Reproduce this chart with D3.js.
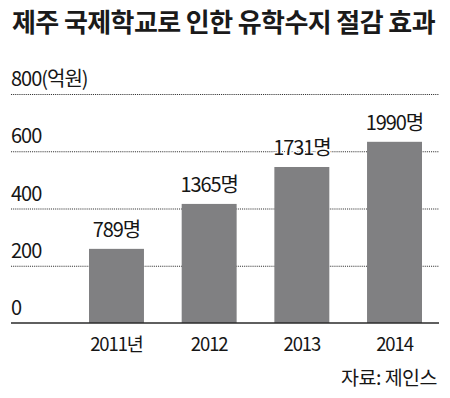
<!DOCTYPE html>
<html>
<head>
<meta charset="utf-8">
<script src="https://cdn.jsdelivr.net/npm/d3@7"></script>
<style>
  html, body { margin: 0; padding: 0; background: #fff; }
  svg { display: block; font-family: "Noto Sans CJK KR", "Noto Sans", sans-serif; }
</style>
</head>
<body>
<div id="chart"></div>
<script>
// data
const years = ['2011', '2012', '2013', '2014'];
const yearLabels = ['2011년', '2012', '2013', '2014'];
const savings = [259, 416, 545, 633];          // 억원
const students = ['789명', '1365명', '1731명', '1990명'];
const yTicks = [0, 200, 400, 600, 800];

const width = 450;
const height = 398;
const margin = { top: 94, right: 11, bottom: 75, left: 11 };

let svg = d3.select('#chart').append('svg')
    .attr('width', width)
    .attr('height', height);

svg.append('rect')
    .attr('width', width)
    .attr('height', height)
    .style('fill', '#fff');

// title
svg.append('text')
    .attr('x', 12)
    .attr('y', 32)
    .style('font-size', '26px')
    .style('font-weight', 700)
    .style('letter-spacing', '-0.6px')
    .style('fill', '#1a1a1a')
    .text('제주 국제학교로 인한 유학수지 절감 효과');

// scales
let yScale = d3.scaleLinear()
    .domain([0, 800])
    .range([height - margin.bottom, margin.top]);

let xScale = d3.scaleBand()
    .domain(years)
    .range([89, 422])
    .paddingInner(0.407)
    .paddingOuter(0);

// grid lines (dotted)
svg.append('g')
    .selectAll('line')
    .data(yTicks.filter(d => d > 0))
    .enter()
    .append('line')
    .attr('x1', margin.left)
    .attr('x2', width - margin.right)
    .attr('y1', d => yScale(d) + 0.5)
    .attr('y2', d => yScale(d) + 0.5)
    .style('stroke', '#333')
    .style('stroke-width', 1.1)
    .style('stroke-dasharray', '1.1,1');

// tick labels
svg.append('g')
    .selectAll('text')
    .data(yTicks)
    .enter()
    .append('text')
    .attr('x', 11)
    .attr('y', d => yScale(d) - 8)
    .style('font-size', '20px')
    .style('letter-spacing', '-1px')
    .style('fill', '#161616')
    .text(d => d === 800 ? '800(억원)' : d);

// bars
svg.append('g')
    .selectAll('rect')
    .data(savings)
    .enter()
    .append('rect')
    .attr('x', (d, i) => xScale(years[i]))
    .attr('y', d => yScale(d))
    .attr('width', xScale.bandwidth())
    .attr('height', d => yScale(0) - yScale(d))
    .style('fill', '#808082');

// baseline
svg.append('line')
    .attr('x1', margin.left)
    .attr('x2', width - margin.right)
    .attr('y1', yScale(0))
    .attr('y2', yScale(0))
    .style('stroke', '#2a2a2a')
    .style('stroke-width', 1.6);

// value labels (white halo so the grid stops at the text)
svg.append('g')
    .selectAll('text')
    .data(savings)
    .enter()
    .append('text')
    .attr('x', (d, i) => xScale(years[i]) + xScale.bandwidth() / 2)
    .attr('y', d => yScale(d) - 12)
    .attr('text-anchor', 'middle')
    .style('font-size', '20px')
    .style('letter-spacing', '-1.1px')
    .style('fill', '#161616')
    .style('stroke', '#fff')
    .style('stroke-width', 3)
    .style('paint-order', 'stroke')
    .text((d, i) => students[i]);

// x labels
svg.append('g')
    .selectAll('text')
    .data(yearLabels)
    .enter()
    .append('text')
    .attr('x', (d, i) => xScale(years[i]) + xScale.bandwidth() / 2)
    .attr('y', yScale(0) + 28)
    .attr('text-anchor', 'middle')
    .style('font-size', '18.5px')
    .style('letter-spacing', '-1.1px')
    .style('fill', '#161616')
    .text(d => d);

// source
svg.append('text')
    .attr('x', 437)
    .attr('y', 385)
    .attr('text-anchor', 'end')
    .style('font-size', '19.5px')
    .style('letter-spacing', '-0.5px')
    .style('fill', '#161616')
    .text('자료: 제인스');
</script>
</body>
</html>
